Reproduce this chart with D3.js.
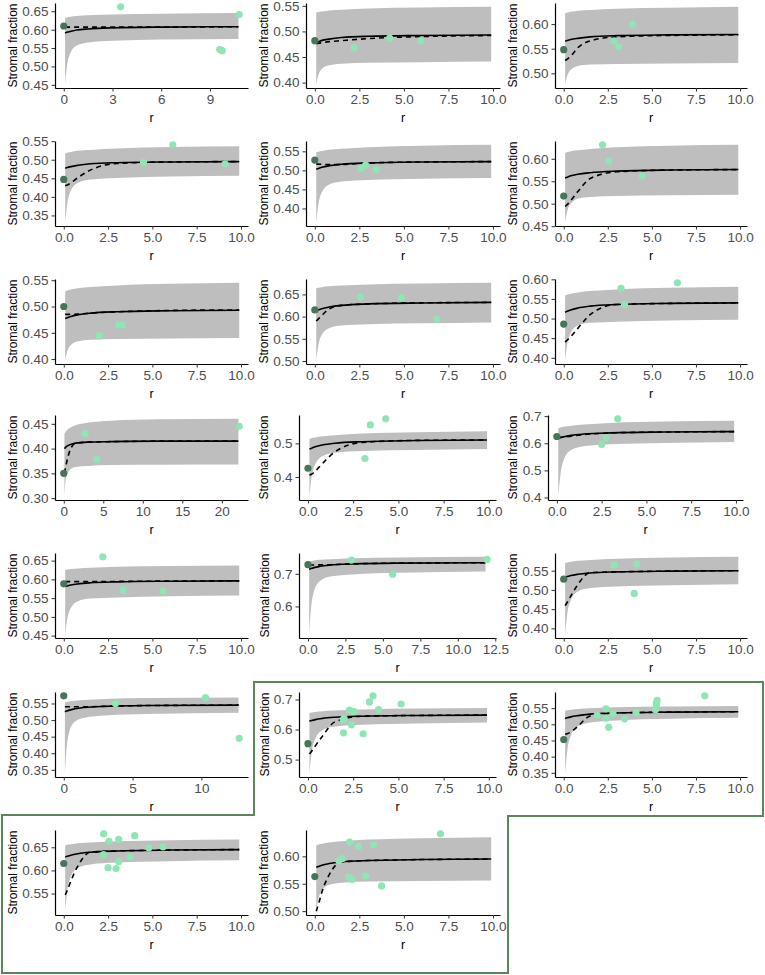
<!DOCTYPE html>
<html>
<head>
<meta charset="utf-8">
<script src="https://cdn.jsdelivr.net/npm/d3@7"></script>
<style>
  body { margin: 0; background: #fff; }
  svg { display: block; font-family: "Liberation Sans", Arial, sans-serif; }
</style>
</head>
<body>
<svg id="chart" width="765" height="975"></svg>
<script>
const gridStd = [0.08, 0.2, 0.4, 0.8, 1.5, 3, 6, 9.9];
const curveR = [
  [0.08, 0.2, 0.4, 0.8, 1.5, 3, 6, 10.75],
  gridStd, gridStd, gridStd, gridStd, gridStd, gridStd, gridStd, gridStd,
  [0.08, 0.2, 0.4, 0.8, 1.5, 3, 6, 12, 22.1],
  gridStd, gridStd, gridStd,
  [0.08, 0.2, 0.4, 0.8, 1.5, 3, 6, 11.85],
  gridStd,
  [0.08, 0.2, 0.4, 0.8, 1.5, 3, 6, 12.7],
  gridStd, gridStd, gridStd, gridStd
];

const bandLow = [
  [0.452, 0.501, 0.536, 0.557, 0.565, 0.570, 0.573, 0.575],
  [0.397, 0.415, 0.427, 0.434, 0.437, 0.439, 0.440, 0.441],
  [0.478, 0.495, 0.507, 0.515, 0.518, 0.519, 0.520, 0.521],
  [0.332, 0.382, 0.417, 0.438, 0.447, 0.451, 0.455, 0.457],
  [0.364, 0.410, 0.443, 0.463, 0.471, 0.475, 0.478, 0.480],
  [0.459, 0.483, 0.500, 0.511, 0.515, 0.517, 0.519, 0.520],
  [0.398, 0.415, 0.427, 0.434, 0.437, 0.438, 0.439, 0.440],
  [0.502, 0.536, 0.560, 0.574, 0.580, 0.583, 0.585, 0.587],
  [0.394, 0.435, 0.464, 0.482, 0.489, 0.492, 0.495, 0.497],
  [0.304, 0.330, 0.347, 0.358, 0.363, 0.365, 0.367, 0.3675, 0.368],
  [0.343, 0.399, 0.438, 0.462, 0.472, 0.477, 0.480, 0.483],
  [0.405, 0.485, 0.541, 0.575, 0.589, 0.596, 0.601, 0.605],
  [0.454, 0.495, 0.524, 0.542, 0.549, 0.552, 0.555, 0.557],
  [0.515, 0.592, 0.646, 0.678, 0.692, 0.698, 0.703, 0.707],
  [0.385, 0.437, 0.473, 0.496, 0.505, 0.509, 0.512, 0.515],
  [0.340, 0.413, 0.464, 0.495, 0.507, 0.514, 0.518, 0.522],
  [0.455, 0.522, 0.569, 0.598, 0.610, 0.616, 0.620, 0.623],
  [0.349, 0.417, 0.465, 0.494, 0.506, 0.512, 0.517, 0.520],
  [0.512, 0.556, 0.587, 0.606, 0.613, 0.617, 0.620, 0.622],
  [0.500, 0.522, 0.538, 0.548, 0.552, 0.554, 0.555, 0.556]
];

const bandHigh = [
  [0.632, 0.633, 0.635, 0.637, 0.639, 0.641, 0.643, 0.645],
  [0.537, 0.538, 0.539, 0.541, 0.5425, 0.545, 0.547, 0.548],
  [0.622, 0.623, 0.625, 0.627, 0.6285, 0.631, 0.633, 0.635],
  [0.517, 0.519, 0.521, 0.524, 0.5265, 0.530, 0.534, 0.536],
  [0.547, 0.549, 0.551, 0.554, 0.557, 0.561, 0.5646, 0.567],
  [0.613, 0.615, 0.617, 0.619, 0.622, 0.6255, 0.629, 0.631],
  [0.529, 0.5306, 0.5322, 0.5346, 0.537, 0.5402, 0.5431, 0.545],
  [0.664, 0.6652, 0.6664, 0.6682, 0.670, 0.6724, 0.6746, 0.676],
  [0.559, 0.5612, 0.5634, 0.5667, 0.570, 0.5744, 0.5784, 0.581],
  [0.430, 0.433, 0.437, 0.442, 0.447, 0.452, 0.456, 0.459, 0.460],
  [0.513, 0.5153, 0.5176, 0.521, 0.5245, 0.5291, 0.5332, 0.536],
  [0.655, 0.658, 0.661, 0.665, 0.669, 0.675, 0.680, 0.683],
  [0.625, 0.6262, 0.6274, 0.6292, 0.631, 0.6334, 0.6356, 0.637],
  [0.738, 0.7394, 0.7408, 0.7429, 0.745, 0.7478, 0.7503, 0.752],
  [0.570, 0.5716, 0.5732, 0.5756, 0.578, 0.5812, 0.5841, 0.586],
  [0.553, 0.5545, 0.556, 0.5583, 0.5605, 0.5635, 0.5662, 0.568],
  [0.655, 0.6567, 0.6584, 0.661, 0.6635, 0.6669, 0.670, 0.672],
  [0.542, 0.5435, 0.545, 0.5473, 0.5495, 0.5525, 0.5552, 0.557],
  [0.654, 0.6553, 0.6566, 0.6586, 0.6605, 0.6631, 0.6654, 0.667],
  [0.620, 0.6215, 0.623, 0.6253, 0.6275, 0.6305, 0.6332, 0.635]
];

const fitSolid = [
  [0.591, 0.593, 0.595, 0.599, 0.602, 0.605, 0.607, 0.608],
  [0.479, 0.480, 0.4825, 0.485, 0.488, 0.4905, 0.492, 0.493],
  [0.565, 0.5665, 0.5685, 0.571, 0.574, 0.5765, 0.578, 0.579],
  [0.477, 0.479, 0.4815, 0.485, 0.489, 0.492, 0.494, 0.495],
  [0.503, 0.505, 0.508, 0.512, 0.516, 0.5195, 0.522, 0.523],
  [0.557, 0.559, 0.562, 0.5655, 0.569, 0.5725, 0.575, 0.576],
  [0.477, 0.4786, 0.481, 0.4842, 0.4874, 0.4901, 0.492, 0.493],
  [0.613, 0.615, 0.6178, 0.6215, 0.6254, 0.6286, 0.6308, 0.632],
  [0.516, 0.5184, 0.522, 0.5268, 0.5316, 0.5357, 0.5386, 0.540],
  [0.400, 0.402, 0.405, 0.408, 0.411, 0.413, 0.414, 0.415, 0.415],
  [0.483, 0.4857, 0.4898, 0.4952, 0.5006, 0.5051, 0.5084, 0.510],
  [0.618, 0.6205, 0.624, 0.629, 0.634, 0.6385, 0.6415, 0.643],
  [0.581, 0.5825, 0.5848, 0.5878, 0.5908, 0.5933, 0.5951, 0.596],
  [0.714, 0.716, 0.719, 0.723, 0.727, 0.7304, 0.7328, 0.734],
  [0.533, 0.5347, 0.5373, 0.5407, 0.5441, 0.5469, 0.549, 0.550],
  [0.525, 0.527, 0.530, 0.534, 0.538, 0.5414, 0.5438, 0.545],
  [0.628, 0.630, 0.633, 0.637, 0.641, 0.6444, 0.6468, 0.648],
  [0.518, 0.520, 0.523, 0.527, 0.5316, 0.5352, 0.5377, 0.539],
  [0.629, 0.6306, 0.633, 0.6362, 0.6394, 0.6421, 0.644, 0.645],
  [0.580, 0.5815, 0.5838, 0.5868, 0.5898, 0.5923, 0.5941, 0.595]
];

const fitDashed = [
  [0.607, 0.607, 0.607, 0.607, 0.607, 0.607, 0.607, 0.608],
  [0.476, 0.477, 0.478, 0.480, 0.482, 0.486, 0.490, 0.492],
  [0.526, 0.529, 0.535, 0.552, 0.566, 0.574, 0.577, 0.578],
  [0.430, 0.432, 0.438, 0.452, 0.472, 0.490, 0.494, 0.495],
  [0.5165, 0.5163, 0.516, 0.515, 0.5155, 0.5195, 0.522, 0.523],
  [0.494, 0.498, 0.507, 0.527, 0.556, 0.571, 0.575, 0.576],
  [0.485, 0.485, 0.485, 0.4855, 0.4875, 0.490, 0.4925, 0.4935],
  [0.590, 0.595, 0.603, 0.617, 0.6254, 0.6286, 0.631, 0.632],
  [0.440, 0.445, 0.454, 0.475, 0.510, 0.536, 0.5386, 0.540],
  [0.350, 0.360, 0.375, 0.397, 0.411, 0.413, 0.414, 0.415, 0.415],
  [0.406, 0.408, 0.417, 0.440, 0.475, 0.503, 0.509, 0.510],
  [0.622, 0.622, 0.623, 0.626, 0.632, 0.638, 0.6415, 0.643],
  [0.594, 0.594, 0.594, 0.594, 0.594, 0.5945, 0.5955, 0.596],
  [0.727, 0.727, 0.727, 0.7275, 0.728, 0.7305, 0.7328, 0.734],
  [0.459, 0.468, 0.484, 0.514, 0.545, 0.5469, 0.549, 0.550],
  [0.540, 0.540, 0.540, 0.540, 0.540, 0.5415, 0.5438, 0.545],
  [0.519, 0.528, 0.545, 0.578, 0.626, 0.6444, 0.6468, 0.648],
  [0.469, 0.471, 0.476, 0.494, 0.526, 0.5352, 0.5377, 0.539],
  [0.547, 0.557, 0.577, 0.610, 0.6394, 0.6421, 0.644, 0.645],
  [0.500, 0.512, 0.535, 0.566, 0.5898, 0.5923, 0.5941, 0.595]
];

// dark point at r = 0, then the light points
const baselinePoint = [
  [0, 0.610], [0, 0.482], [0, 0.548], [0, 0.447], [0, 0.527],
  [0, 0.517], [0, 0.500], [0, 0.615], [0, 0.486], [0, 0.350],
  [0, 0.426], [0, 0.625], [0, 0.588], [0, 0.728], [0, 0.528],
  [0, 0.573], [0, 0.553], [0, 0.453], [0, 0.615], [0, 0.563]
];

const sitePoints = [
  [[3.5, 0.662], [9.6, 0.546], [9.75, 0.543], [10.8, 0.641]],
  [[2.2, 0.468], [4.2, 0.487], [5.95, 0.482]],
  [[2.85, 0.566], [3.1, 0.554], [3.9, 0.599]],
  [[4.5, 0.493], [6.15, 0.540], [9.1, 0.489]],
  [[2.6, 0.505], [2.85, 0.514], [3.45, 0.502]],
  [[2.2, 0.631], [2.55, 0.595], [4.45, 0.562]],
  [[2.0, 0.444], [3.1, 0.465], [3.3, 0.465]],
  [[2.55, 0.644], [4.85, 0.643], [6.85, 0.595]],
  [[3.25, 0.577], [3.45, 0.536], [6.45, 0.591]],
  [[2.7, 0.430], [4.2, 0.378], [22.2, 0.445]],
  [[3.15, 0.455], [3.45, 0.555], [4.3, 0.573]],
  [[2.5, 0.595], [2.75, 0.620], [3.4, 0.690]],
  [[2.2, 0.660], [3.35, 0.572], [5.6, 0.569]],
  [[2.9, 0.742], [5.65, 0.699], [11.95, 0.744]],
  [[2.85, 0.565], [4.0, 0.491], [4.15, 0.567]],
  [[3.75, 0.550], [10.3, 0.568], [12.75, 0.445]],
  [[1.95, 0.632], [2.0, 0.637], [1.97, 0.589], [2.3, 0.665], [2.4, 0.616], [2.55, 0.660],
   [3.05, 0.586], [3.4, 0.692], [3.6, 0.712], [3.9, 0.666], [5.15, 0.685]],
  [[1.9, 0.528], [2.4, 0.548], [2.4, 0.519], [2.55, 0.491], [2.8, 0.533], [3.45, 0.517],
   [4.1, 0.536], [5.2, 0.545], [5.25, 0.558], [5.25, 0.566], [5.3, 0.574], [8.0, 0.588]],
  [[2.25, 0.679], [2.25, 0.634], [2.55, 0.663], [2.5, 0.606], [3.1, 0.667], [3.1, 0.619],
   [2.95, 0.604], [3.75, 0.629], [4.0, 0.675], [4.8, 0.649], [5.6, 0.651]],
  [[1.35, 0.592], [1.55, 0.596], [1.9, 0.562], [1.95, 0.626], [2.1, 0.558], [2.45, 0.618],
   [2.85, 0.564], [3.3, 0.621], [3.75, 0.546], [7.05, 0.641]]
];

const xStd = ['0.0', '2.5', '5.0', '7.5', '10.0'];
const xTickLabels = [
  ['0', '3', '6', '9'], xStd, xStd, xStd, xStd, xStd, xStd, xStd, xStd,
  ['0', '5', '10', '15', '20'], xStd, xStd, xStd,
  ['0.0', '2.5', '5.0', '7.5', '10.0', '12.5'], xStd,
  ['0', '5', '10'], xStd, xStd, xStd, xStd
];

const yTickLabels = [
  ['0.45', '0.50', '0.55', '0.60', '0.65'],
  ['0.40', '0.45', '0.50', '0.55'],
  ['0.50', '0.55', '0.60'],
  ['0.35', '0.40', '0.45', '0.50', '0.55'],
  ['0.40', '0.45', '0.50', '0.55'],
  ['0.45', '0.50', '0.55', '0.60'],
  ['0.40', '0.45', '0.50', '0.55'],
  ['0.50', '0.55', '0.60', '0.65'],
  ['0.40', '0.45', '0.50', '0.55', '0.60'],
  ['0.30', '0.35', '0.40', '0.45'],
  ['0.4', '0.5'],
  ['0.4', '0.5', '0.6', '0.7'],
  ['0.45', '0.50', '0.55', '0.60', '0.65'],
  ['0.6', '0.7'],
  ['0.40', '0.45', '0.50', '0.55'],
  ['0.35', '0.40', '0.45', '0.50', '0.55'],
  ['0.5', '0.6', '0.7'],
  ['0.35', '0.40', '0.45', '0.50', '0.55'],
  ['0.55', '0.60', '0.65'],
  ['0.50', '0.55', '0.60']
];

// layout
const rowAxisY = [88, 226, 364, 500, 638, 777, 915];
const plotH = 85;
const colLeft = [55, 306, 555];
const colRight = [248, 500, 747];

const svg = d3.select('#chart');
const expand = ([a, b]) => [a - (b - a) * 0.05, b + (b - a) * 0.05];

for (let i = 0; i < 20; i++) {
  const row = Math.floor(i / 3), col = i % 3;
  const narrow = yTickLabels[i][0].length === 3;
  const left = colLeft[col] - (narrow ? 7 : 0);
  const right = colRight[col] - (narrow ? 4 : 0);
  const bottom = rowAxisY[row], top = bottom - plotH;
  const rs = curveR[i];
  const pts = [baselinePoint[i], ...sitePoints[i]];

  const xs = [0, ...rs, ...pts.map((p) => p[0])];
  const ys = [...bandLow[i], ...bandHigh[i], ...fitSolid[i], ...fitDashed[i], ...pts.map((p) => p[1])];
  const x = d3.scaleLinear(expand(d3.extent(xs)), [left, right]);
  const y = d3.scaleLinear(expand(d3.extent(ys)), [bottom, top]);

  const g = svg.append('g');

  const area = d3.area()
    .x((d, k) => x(rs[k]))
    .y0((d, k) => y(bandLow[i][k]))
    .y1((d, k) => y(bandHigh[i][k]))
    .curve(d3.curveMonotoneX);
  g.append('path').datum(rs).attr('d', area).attr('fill', '#bebebe');

  const line = (vals) => d3.line().x((d, k) => x(rs[k])).y((d, k) => y(vals[k])).curve(d3.curveMonotoneX);
  g.append('path').datum(rs).attr('d', line(fitDashed[i]))
    .attr('fill', 'none').attr('stroke', '#000').attr('stroke-width', 1.6).attr('stroke-dasharray', '5,4');
  g.append('path').datum(rs).attr('d', line(fitSolid[i]))
    .attr('fill', 'none').attr('stroke', '#000').attr('stroke-width', 1.6);

  g.selectAll('circle.site').data(sitePoints[i]).join('circle')
    .attr('class', 'site')
    .attr('cx', (d) => x(d[0])).attr('cy', (d) => y(d[1])).attr('r', 3.6)
    .attr('fill', '#8fe5b3');
  g.append('circle')
    .attr('cx', x(baselinePoint[i][0])).attr('cy', y(baselinePoint[i][1])).attr('r', 3.6)
    .attr('fill', '#46755a');

  const xAxis = d3.axisBottom(x)
    .tickValues(xTickLabels[i].map(Number))
    .tickFormat((d, k) => xTickLabels[i][k])
    .tickSizeInner(3.5).tickSizeOuter(0).tickPadding(3);
  const yAxis = d3.axisLeft(y)
    .tickValues(yTickLabels[i].map(Number))
    .tickFormat((d, k) => yTickLabels[i][k])
    .tickSizeInner(3.5).tickSizeOuter(0).tickPadding(3);

  const gx = g.append('g').attr('transform', `translate(0,${bottom})`).call(xAxis);
  const gy = g.append('g').attr('transform', `translate(${left},0)`).call(yAxis);
  [gx, gy].forEach((a) => {
    a.select('.domain').attr('stroke', '#000').attr('stroke-width', 1.2);
    a.selectAll('.tick line').attr('stroke', '#333').attr('stroke-width', 1);
    a.selectAll('.tick text').attr('fill', '#4d4d4d').style('font-size', '13.5px')
      .style('font-family', '"Liberation Sans", Arial, sans-serif');
  });

  let labelW = 0;
  gy.selectAll('.tick text').each(function () { labelW = Math.max(labelW, this.getBBox().width); });

  g.append('text')
    .attr('transform', `translate(${left - 6.5 - labelW - 9},${(top + bottom) / 2}) rotate(-90)`)
    .attr('text-anchor', 'middle').attr('dy', '0.35em')
    .style('font-size', '12px').attr('fill', '#000')
    .text('Stromal fraction');
  g.append('text')
    .attr('x', (left + right) / 2).attr('y', bottom + 30).attr('dy', '0.35em')
    .attr('text-anchor', 'middle').style('font-size', '12.5px').attr('fill', '#000')
    .text('r');
}

// highlight frame around the last four panels
svg.append('path')
  .attr('d', 'M2,815 H254 V682 H763 V816 H508 V973 H2 Z')
  .attr('fill', 'none').attr('stroke', '#58875b').attr('stroke-width', 2);
</script>
</body>
</html>
